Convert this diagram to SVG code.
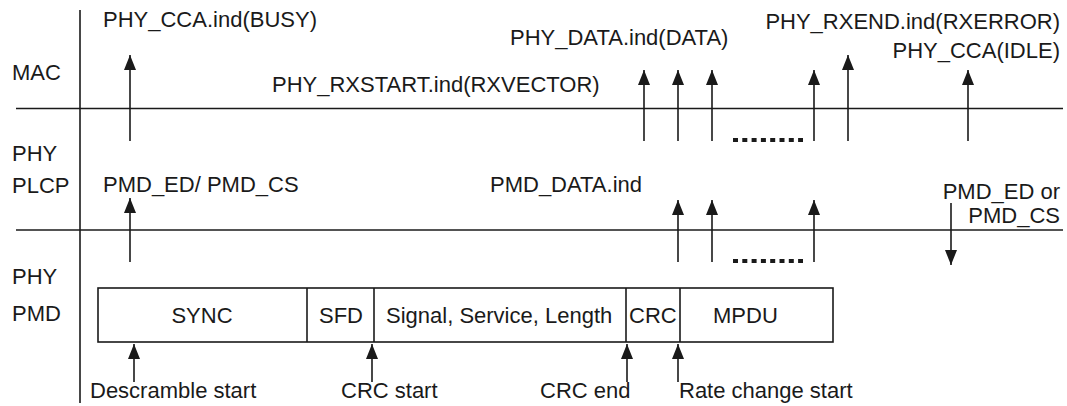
<svg xmlns="http://www.w3.org/2000/svg" width="1067" height="406" viewBox="0 0 1067 406">
<defs>
<marker id="ah" viewBox="0 0 15 12" refX="15" refY="6" markerWidth="15" markerHeight="12" markerUnits="userSpaceOnUse" orient="auto-start-reverse">
<path d="M0,0 L15,6 L0,12 Z" fill="#1a1a1a"/>
</marker>
<style>
text{font-family:"Liberation Sans",Arial,Helvetica,sans-serif;font-size:22px;fill:#1a1a1a}
.ln{stroke:#1a1a1a;stroke-width:1.6;fill:none}
.ar{stroke:#1a1a1a;stroke-width:1.6;fill:none;marker-start:url(#ah)}
.dn{stroke:#1a1a1a;stroke-width:1.6;fill:none;marker-end:url(#ah)}
.dots{stroke:#1a1a1a;stroke-width:4;stroke-dasharray:5 4.3;fill:none}
.box{fill:#fff;stroke:#1a1a1a;stroke-width:1.6}
.e{text-anchor:end}
.m{text-anchor:middle}
</style>
</defs>
<rect width="1067" height="406" fill="#fff"/>
<g id="layers">
<line class="ln" x1="80" y1="10" x2="80" y2="403"/>
<line class="ln" x1="16" y1="108.5" x2="1063" y2="108.5"/>
<line class="ln" x1="16" y1="230" x2="1063" y2="230"/>
<text x="12" y="80">MAC</text>
<text x="12" y="161">PHY</text>
<text x="12" y="193">PLCP</text>
<text x="12" y="284">PHY</text>
<text x="12" y="321">PMD</text>
</g>
<g id="frame">
<rect class="box" x="98" y="288" width="735" height="54"/>
<line class="ln" x1="307" y1="288" x2="307" y2="342"/>
<line class="ln" x1="374" y1="288" x2="374" y2="342"/>
<line class="ln" x1="626" y1="288" x2="626" y2="342"/>
<line class="ln" x1="680" y1="288" x2="680" y2="342"/>
<text class="m" x="202" y="323">SYNC</text>
<text class="m" x="341" y="323">SFD</text>
<text x="386" y="323">Signal, Service, Length</text>
<text x="629" y="323">CRC</text>
<text x="713" y="323">MPDU</text>
</g>
<g id="connectors">
<line class="ar" x1="130" y1="55" x2="130" y2="141"/>
<line class="ar" x1="644" y1="70" x2="644" y2="141"/>
<line class="ar" x1="678" y1="70" x2="678" y2="141"/>
<line class="ar" x1="712" y1="70" x2="712" y2="141"/>
<line class="ar" x1="814" y1="70" x2="814" y2="141"/>
<line class="ar" x1="848" y1="55" x2="848" y2="141"/>
<line class="ar" x1="968" y1="70" x2="968" y2="141"/>
<line class="dots" x1="733" y1="140" x2="803" y2="140"/>
<line class="ar" x1="130" y1="198" x2="130" y2="262"/>
<line class="ar" x1="678" y1="200" x2="678" y2="262"/>
<line class="ar" x1="712" y1="200" x2="712" y2="262"/>
<line class="ar" x1="814" y1="200" x2="814" y2="262"/>
<line class="dots" x1="733" y1="261" x2="803" y2="261"/>
<line class="dn" x1="951" y1="203" x2="951" y2="265"/>
<line class="ar" x1="134" y1="344" x2="134" y2="382"/>
<line class="ar" x1="372" y1="344" x2="372" y2="382"/>
<line class="ar" x1="627" y1="344" x2="627" y2="382"/>
<line class="ar" x1="678" y1="344" x2="678" y2="382"/>
</g>
<g id="labels">
<text x="103" y="27">PHY_CCA.ind(BUSY)</text>
<text x="272" y="92">PHY_RXSTART.ind(RXVECTOR)</text>
<text x="510" y="45">PHY_DATA.ind(DATA)</text>
<text class="e" x="1060" y="29">PHY_RXEND.ind(RXERROR)</text>
<text class="e" x="1060" y="58">PHY_CCA(IDLE)</text>
<text x="103" y="192">PMD_ED/ PMD_CS</text>
<text x="490" y="192">PMD_DATA.ind</text>
<text class="e" x="1060" y="199">PMD_ED or</text>
<text class="e" x="1060" y="223">PMD_CS</text>
<text x="90" y="398">Descramble start</text>
<text x="341" y="398">CRC start</text>
<text x="540" y="398">CRC end</text>
<text x="679" y="398">Rate change start</text>
</g>
</svg>
